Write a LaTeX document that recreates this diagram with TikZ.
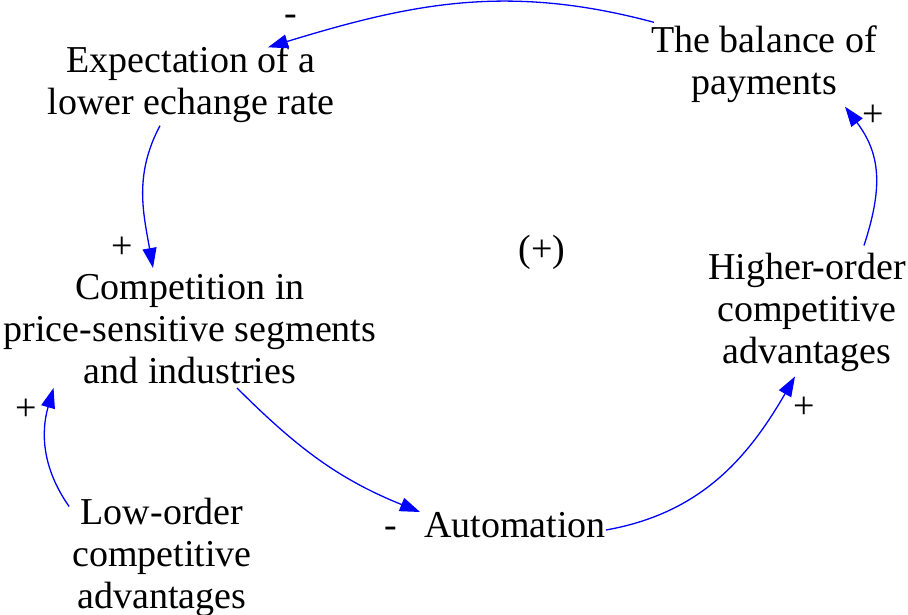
\documentclass[tikz,border=0pt]{standalone}
\usepackage{fontspec}
\setmainfont{Liberation Serif}
\usetikzlibrary{arrows.meta}

\begin{document}
\begin{tikzpicture}[
  x=1pt, y=1pt,
  >={Triangle[length=20pt,width=14pt]},
  every node/.style={font=\fontsize{38}{42}\selectfont},
  var/.style={align=center,inner sep=0pt},
  sign/.style={inner sep=0pt},
  link/.style={->,blue,line width=1.3pt}
]
  \useasboundingbox (0,0) rectangle (908,615);
  % variables of the loop
  \node[var] (exp) at (191,531) {Expectation of a\\lower echange rate};
  \node[var] (bal) at (764,551) {The balance of\\payments};
  \node[var] (comp) at (190,286) {Competition in\\price-sensitive segments\\and industries};
  \node[var] (high) at (807,303) {Higher-order\\competitive\\advantages};
  \node[var] (low) at (162,58) {Low-order\\competitive\\advantages};
  \node[var] (auto) at (515,90) {Automation};
  \node[sign] (loop) at (542,363) {(+)};
  % causal links
  \draw[link] ([shift={(3,3)}]bal.north west) to[out=165,in=17] ([shift={(77,-2)}]exp.north);
  \draw[link] ([shift={(-31,-3)}]exp.south) to[out=242,in=100] ([shift={(-37,6)}]comp.north);
  \draw[link] ([shift={(-3,-9)}]low.north west) to[out=125,in=254] ([shift={(50,-4)}]comp.south west);
  \draw[link] ([shift={(47,-4)}]comp.south) to[out=-45,in=158] ([shift={(-4,13)}]auto.west);
  \draw[link] ([shift={(0,-5)}]auto.east) to[out=10,in=240] ([shift={(-12,-5)}]high.south);
  \draw[link] ([shift={(57,7)}]high.north) to[out=72,in=307,looseness=1.1] ([shift={(81,-4)}]bal.south);
  % polarities
  \node[sign] at (291,595) {-};
  \node[sign] at (873,499) {+};
  \node[sign] at (122,367) {+};
  \node[sign] at (26,205) {+};
  \node[sign] at (391,83) {-};
  \node[sign] at (804,207) {+};
\end{tikzpicture}
\end{document}
